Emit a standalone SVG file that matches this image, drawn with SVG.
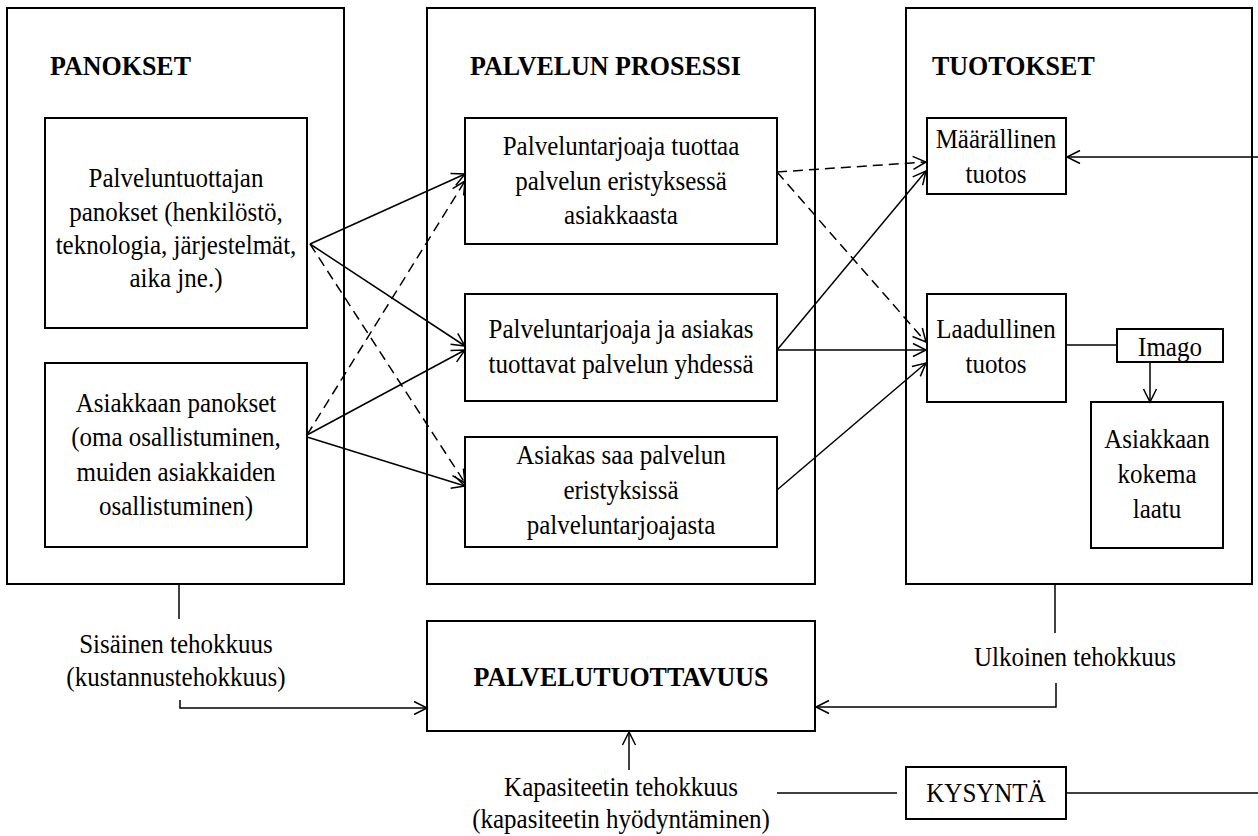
<svg xmlns="http://www.w3.org/2000/svg" width="1258" height="836" viewBox="0 0 1258 836">
<style>
  .box { fill: none; stroke: #000; stroke-width: 2; }
  .t, .h { transform-box: fill-box; transform-origin: 50% 75%; transform: scaleY(1.08); }
  .t { font-family: "Liberation Serif", "Times New Roman", serif; font-size: 25px; fill: #000; text-anchor: middle; }
  .h { font-family: "Liberation Serif", "Times New Roman", serif; font-size: 26px; font-weight: bold; fill: #000; }
  .hc { text-anchor: middle; }
  .ln { fill: none; stroke: #000; stroke-width: 1.5; }
  .d { stroke-dasharray: 10 6; }
  .arr { marker-end: url(#ah); }
</style>
<defs>
  <marker id="ah" markerUnits="userSpaceOnUse" markerWidth="16" markerHeight="16" refX="14" refY="8" orient="auto">
    <path d="M1,1.5 L14,8 L1,14.5" fill="none" stroke="#000" stroke-width="1.5" stroke-dasharray="none"/>
  </marker>
</defs>
<rect width="1258" height="836" fill="#fff"/>

<g id="panokset">
  <rect class="box" x="7" y="8" width="337" height="576"/>
  <text class="h" x="50" y="75">PANOKSET</text>
</g>
<g id="palveluntuottajan-panokset">
  <rect class="box" x="45" y="118" width="262" height="210"/>
  <text class="t" x="176" y="187">Palveluntuottajan</text>
  <text class="t" x="176" y="221">panokset (henkilöstö,</text>
  <text class="t" x="176" y="254">teknologia, järjestelmät,</text>
  <text class="t" x="176" y="287">aika jne.)</text>
</g>
<g id="asiakkaan-panokset">
  <rect class="box" x="45" y="363" width="262" height="184"/>
  <text class="t" x="176" y="412">Asiakkaan panokset</text>
  <text class="t" x="176" y="446">(oma osallistuminen,</text>
  <text class="t" x="176" y="481">muiden asiakkaiden</text>
  <text class="t" x="176" y="515">osallistuminen)</text>
</g>

<g id="palvelun-prosessi">
  <rect class="box" x="427" y="8" width="388" height="576"/>
  <text class="h" x="470" y="75">PALVELUN PROSESSI</text>
</g>
<g id="prosessi-1">
  <rect class="box" x="465" y="118" width="312" height="126"/>
  <text class="t" x="621" y="155">Palveluntarjoaja tuottaa</text>
  <text class="t" x="621" y="190">palvelun eristyksessä</text>
  <text class="t" x="621" y="224">asiakkaasta</text>
</g>
<g id="prosessi-2">
  <rect class="box" x="465" y="294" width="312" height="107"/>
  <text class="t" x="621" y="338">Palveluntarjoaja ja asiakas</text>
  <text class="t" x="621" y="373">tuottavat palvelun yhdessä</text>
</g>
<g id="prosessi-3">
  <rect class="box" x="465" y="437" width="312" height="110"/>
  <text class="t" x="621" y="464">Asiakas saa palvelun</text>
  <text class="t" x="621" y="499">eristyksissä</text>
  <text class="t" x="621" y="534">palveluntarjoajasta</text>
</g>

<g id="tuotokset">
  <rect class="box" x="906" y="8" width="346" height="576"/>
  <text class="h" x="932" y="75">TUOTOKSET</text>
</g>
<g id="maarallinen">
  <rect class="box" x="927" y="118" width="139" height="76"/>
  <text class="t" x="996" y="148">Määrällinen</text>
  <text class="t" x="996" y="183">tuotos</text>
</g>
<g id="laadullinen">
  <rect class="box" x="927" y="294" width="139" height="108"/>
  <text class="t" x="996" y="338">Laadullinen</text>
  <text class="t" x="996" y="373">tuotos</text>
</g>
<g id="imago">
  <rect class="box" x="1117" y="329" width="106" height="33"/>
  <text class="t" x="1170" y="356">Imago</text>
</g>
<g id="asiakkaan-kokema-laatu">
  <rect class="box" x="1091" y="402" width="132" height="146"/>
  <text class="t" x="1157" y="448">Asiakkaan</text>
  <text class="t" x="1157" y="483">kokema</text>
  <text class="t" x="1157" y="518">laatu</text>
</g>

<g id="palvelutuottavuus">
  <rect class="box" x="427" y="621" width="388" height="110"/>
  <text class="h hc" x="621" y="686">PALVELUTUOTTAVUUS</text>
</g>
<g id="kysynta">
  <rect class="box" x="906" y="767" width="160" height="52"/>
  <text class="t" x="986" y="802">KYSYNTÄ</text>
</g>

<g id="labels">
  <text class="t" x="176" y="653">Sisäinen tehokkuus</text>
  <text class="t" x="176" y="686">(kustannustehokkuus)</text>
  <text class="t" x="1075" y="666">Ulkoinen tehokkuus</text>
  <text class="t" x="621" y="796">Kapasiteetin tehokkuus</text>
  <text class="t" x="621" y="828">(kapasiteetin hyödyntäminen)</text>
</g>

<g id="connectors">
  <line class="ln arr" x1="310" y1="244" x2="465" y2="174"/>
  <line class="ln arr" x1="310" y1="244" x2="465" y2="346"/>
  <line class="ln d arr" x1="310" y1="244" x2="465" y2="483"/>
  <line class="ln d arr" x1="307" y1="435" x2="465" y2="181"/>
  <line class="ln arr" x1="307" y1="435" x2="465" y2="350"/>
  <line class="ln arr" x1="307" y1="437" x2="465" y2="486"/>

  <line class="ln d arr" x1="777" y1="172" x2="926" y2="162"/>
  <line class="ln d arr" x1="777" y1="172" x2="926" y2="342"/>
  <line class="ln arr" x1="777" y1="350" x2="926" y2="171"/>
  <line class="ln arr" x1="777" y1="350" x2="926" y2="350"/>
  <line class="ln arr" x1="777" y1="490" x2="926" y2="363"/>
  <line class="ln arr" x1="1258" y1="157" x2="1067" y2="157"/>

  <line class="ln" x1="1066" y1="345" x2="1117" y2="345"/>
  <line class="ln arr" x1="1150" y1="362" x2="1150" y2="402"/>

  <line class="ln" x1="179" y1="585" x2="179" y2="619"/>
  <polyline class="ln arr" points="180,700 180,708 427,708"/>
  <line class="ln" x1="1055" y1="585" x2="1055" y2="633"/>
  <polyline class="ln arr" points="1056,683 1056,707 816,707"/>
  <line class="ln arr" x1="629" y1="770" x2="629" y2="732"/>
  <line class="ln" x1="777" y1="793" x2="897" y2="793"/>
  <line class="ln" x1="1066" y1="793" x2="1258" y2="793"/>
</g>
</svg>
